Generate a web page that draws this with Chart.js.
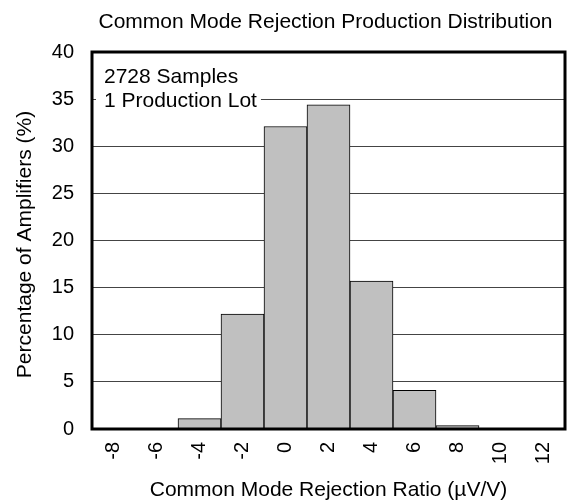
<!DOCTYPE html>
<html>
<head>
<meta charset="utf-8">
<script src="https://cdn.jsdelivr.net/npm/chart.js@4/dist/chart.umd.min.js"></script>
<style>
  html, body { margin: 0; padding: 0; background: #fff; }
  #wrap { width: 572px; height: 503px; }
</style>
</head>
<body>
<div id="wrap"><canvas id="cmrChart" width="572" height="503"></canvas></div>
<script>
// histogram bins (µV/V) and percentage of amplifiers
const binLabels = ['-8', '-6', '-4', '-2', '0', '2', '4', '6', '8', '10', '12'];
const percentValues = [0, 0, 1.1, 12.2, 32.1, 34.4, 15.7, 4.1, 0.35, 0, 0];
const yTicks = [0, 5, 10, 15, 20, 25, 30, 35, 40];
const noteLines = ['2728 Samples', '1 Production Lot'];
const chartTitle = 'Common Mode Rejection Production Distribution';
const yTitle = 'Percentage of Amplifiers (%)';

const FONT = '"Liberation Sans", Arial, sans-serif';

// frame round the plot, titles, and the two note lines
const framePlugin = {
  id: 'frame',
  afterDatasetsDraw(chart) {
    const { ctx, chartArea: a } = chart;
    ctx.save();
    ctx.font = '21px ' + FONT;
    ctx.textBaseline = 'middle';
    noteLines.forEach((t, i) => {
      const y = a.top + 25 + i * 24.5;
      const w = ctx.measureText(t).width;
      ctx.fillStyle = '#fff';
      ctx.fillRect(a.left + 4, y - 11, w + 12, 22);
      ctx.fillStyle = '#000';
      ctx.fillText(t, a.left + 12, y);
    });
    ctx.textAlign = 'center';
    ctx.fillText(chartTitle, (a.left + a.right) / 2 - 3, 22);

    // y title, a little below the plot centre like the original
    ctx.save();
    ctx.translate(25.5, (a.top + a.bottom) / 2 + 4);
    ctx.rotate(-Math.PI / 2);
    ctx.fillText(yTitle, 0, 0);
    ctx.restore();

    ctx.lineWidth = 3;
    ctx.strokeStyle = '#000';
    ctx.strokeRect(a.left, a.top, a.right - a.left, a.bottom - a.top);
    ctx.restore();
  }
};

new Chart(document.getElementById('cmrChart'), {
  type: 'bar',
  data: {
    labels: binLabels,
    datasets: [{
      data: percentValues,
      backgroundColor: '#c0c0c0',
      borderColor: '#000',
      borderWidth: 1,
      barPercentage: 1,
      categoryPercentage: 1
    }]
  },
  options: {
    responsive: false,
    animation: false,
    layout: { padding: { left: 4, right: 7, top: 52, bottom: 0 } },
    plugins: {
      legend: { display: false },
      tooltip: { enabled: false },
      title: { display: false }
    },
    scales: {
      x: {
        afterFit(scale) {
          scale.height = 74;
          scale.paddingLeft = 0;
          scale.paddingRight = 0;
        },
        grid: { display: false, drawTicks: false },
        border: { display: false },
        ticks: {
          color: '#000',
          font: { family: FONT, size: 20 },
          minRotation: 90,
          maxRotation: 90,
          padding: 13
        },
        title: {
          display: true,
          text: 'Common Mode Rejection Ratio (µV/V)',
          color: '#000',
          font: { family: FONT, size: 21 },
          padding: { top: 0, bottom: 0 }
        }
      },
      y: {
        min: 0,
        max: 40,
        afterBuildTicks(axis) { axis.ticks = yTicks.map(v => ({ value: v })); },
        afterFit(scale) {
          scale.width = 88;
          scale.paddingTop = 0;
          scale.paddingBottom = 0;
        },
        grid: { color: '#444', lineWidth: 1, drawTicks: false },
        border: { display: false },
        ticks: {
          color: '#000',
          font: { family: FONT, size: 20 },
          padding: 18
        },
        title: { display: false }
      }
    }
  },
  plugins: [framePlugin]
});
</script>
</body>
</html>
